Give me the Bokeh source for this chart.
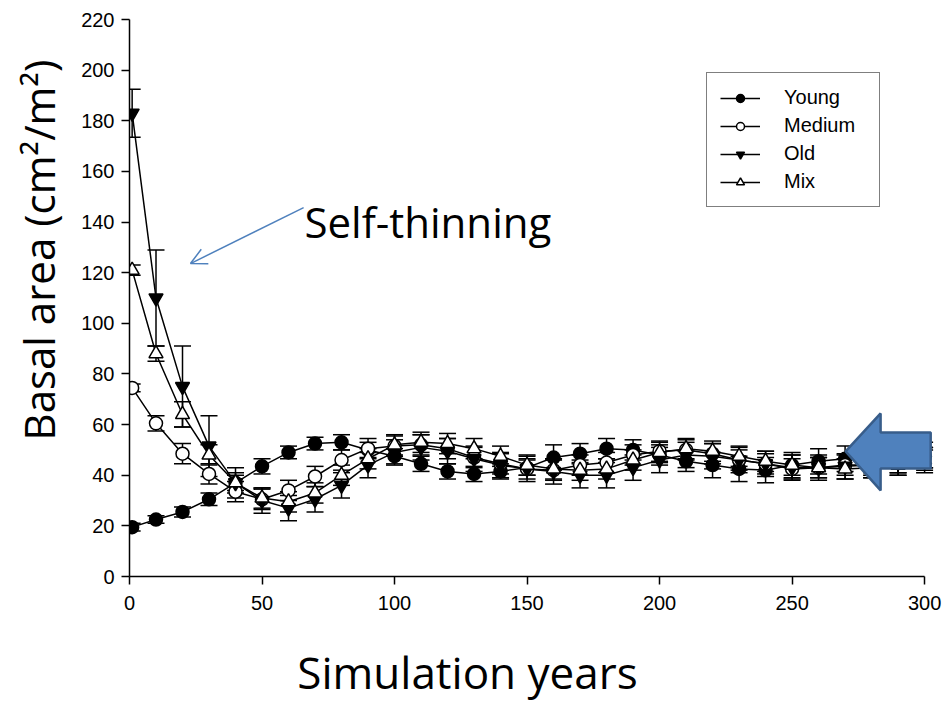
from bokeh.plotting import figure
from bokeh.layouts import column
from bokeh.models import (ColumnDataSource, Range1d, Whisker, TeeHead, Legend, LegendItem,
                          Arrow, OpenHead, Label, FixedTicker, Title)
from bokeh.core.properties import value
from bokeh.embed import file_html
from bokeh.resources import INLINE

years = [1, 10, 20, 30, 40, 50, 60, 70, 80, 90, 100, 110, 120, 130, 140, 150,
         160, 170, 180, 190, 200, 210, 220, 230, 240, 250, 260, 270, 280, 290, 300]

young = [19.5, 22.5, 25.5, 30.5, 37, 43.5, 49, 52.5, 53, 50, 47.5, 44.5, 41.5, 40.5, 41.5, 43,
         47, 48.5, 50.5, 50, 48, 45.5, 44, 42.5, 42, 44, 45.5, 46.5, 46, 46, 48]
young_err = [1.5, 1.5, 2, 2.5, 3, 3, 2.5, 2.5, 3, 3, 3, 3, 3, 3, 3, 3,
             5, 4, 4, 4, 4, 4, 5, 5, 5, 5, 5, 5, 5, 5, 5]

medium = [74.5, 60.5, 48.5, 40.5, 33.5, 30.5, 34, 39.5, 46, 50.5, 51.5, 52, 50.5, 47, 44.5, 42.5,
          42, 44, 45, 48, 49.5, 50, 48.5, 46, 44.5, 42.5, 43, 44, 44, 45, 47]
medium_err = [1.5, 3, 4, 4, 4, 4, 4, 4, 4, 4, 4, 4, 4, 4, 4, 4,
              4, 4, 4, 4, 4, 4, 4, 4, 4, 4, 4, 4, 4, 4, 4]

old = [183, 110, 75, 51.5, 37, 30, 27, 30.5, 36, 44, 49, 51, 49.5, 46.5, 44, 42.5,
       41.5, 40, 40, 43, 46, 48, 47.5, 46, 44.5, 43, 43, 43.5, 44, 45, 46]
old_err = [9.5, 19, 16, 12, 6, 5, 5, 5, 5, 5, 5, 5, 5, 5, 5, 5,
           5, 5, 5, 5, 5, 5, 5, 5, 5, 5, 5, 5, 5, 5, 5]

mix = [121, 88, 64, 48, 37, 31, 29.5, 33, 40, 46.5, 52, 53, 52.5, 50.5, 47.5, 44,
       42.5, 42, 42.5, 46, 49, 50.5, 49.5, 47.5, 45.5, 44, 43, 42.5, 43, 44, 46]
mix_err = [2, 3, 5, 4, 4, 4, 4, 4, 4, 4, 4, 4, 4, 4, 4, 4,
           4, 4, 4, 4, 4, 4, 4, 4, 4, 4, 4, 4, 4, 4, 4]

series_names = ["Young", "Medium", "Old", "Mix"]
x_ticks = [0, 50, 100, 150, 200, 250, 300]
y_ticks = [0, 20, 40, 60, 80, 100, 120, 140, 160, 180, 200, 220]
x_title = "Simulation years"
y_title = "Basal area (cm\u00b2/m\u00b2)"
note_text = "Self-thinning"

FRAME_L, FRAME_T, FRAME_R = 129, 19, 940
W, H = 943, 702
TOP_H = 640          # main figure height; the x title strip sits below it
FRAME_B = 576

p = figure(width=W, height=TOP_H, output_backend="svg", toolbar_location=None,
           x_range=Range1d(0, 306), y_range=Range1d(0, 220),
           min_border_left=FRAME_L, min_border_right=W - FRAME_R,
           min_border_top=FRAME_T, min_border_bottom=TOP_H - FRAME_B)
p.outline_line_color = None
p.grid.visible = False
p.background_fill_color = "white"
p.border_fill_color = "white"

tick_font = "Liberation Sans"
for ax in (p.xaxis[0], p.yaxis[0]):
    ax.axis_line_width = 1.5
    ax.axis_line_color = "black"
    ax.major_tick_line_width = 1.5
    ax.major_tick_line_color = "black"
    ax.major_tick_out = 8
    ax.major_tick_in = 0
    ax.minor_tick_line_color = None
    ax.major_label_text_font = tick_font
    ax.major_label_text_font_size = "20px"
    ax.major_label_text_color = "black"

p.xaxis[0].ticker = FixedTicker(ticks=x_ticks)
p.yaxis[0].ticker = FixedTicker(ticks=y_ticks)
p.xaxis[0].bounds = (0, 300)
p.yaxis[0].bounds = (0, 220)
p.xaxis[0].major_label_standoff = 11
p.yaxis[0].major_label_standoff = 7

# y title as a left-side title, offset from the frame bottom like the reference
p.add_layout(Title(text=y_title, text_font="Open Sans", text_font_size="42px",
                   text_font_style="normal", text_color="black",
                   align="left", offset=136, vertical_align="top", standoff=19),
             "left")

vals = [young, medium, old, mix]
errs = [young_err, medium_err, old_err, mix_err]
markers = ["circle", "circle", "inverted_triangle", "triangle"]
fills = ["black", "white", "black", "white"]
sizes = [13, 13, 14, 14]

items = []
for name, v, e, m, fc, sz in zip(series_names, vals, errs, markers, fills, sizes):
    src = ColumnDataSource(dict(x=years, y=v,
                                lo=[a - b for a, b in zip(v, e)],
                                hi=[a + b for a, b in zip(v, e)]))
    w = Whisker(source=src, base="x", upper="hi", lower="lo",
                line_color="black", line_width=1.5,
                upper_head=TeeHead(size=17, line_color="black", line_width=1.5),
                lower_head=TeeHead(size=17, line_color="black", line_width=1.5))
    p.add_layout(w)
    ln = p.line("x", "y", source=src, line_color="black", line_width=1.5)
    sc = p.scatter("x", "y", source=src, marker=m, size=sz, fill_color=fc,
                   line_color="black", line_width=1.5)
    items.append(LegendItem(label=name, renderers=[ln, sc]))

legend = Legend(items=items, location=(577, 369), orientation="vertical",
                label_text_font=tick_font, label_text_font_size="20px",
                label_text_color="black",
                border_line_color="black", border_line_width=1.5,
                background_fill_color="white", background_fill_alpha=1,
                glyph_width=40, glyph_height=20, spacing=5,
                padding=13, margin=0, label_standoff=24, label_width=82)
p.add_layout(legend)

# "Self-thinning" annotation
arrow_start = (65.7, 145.7)
arrow_end = (23.0, 123.6)
p.add_layout(Arrow(x_start=arrow_start[0], y_start=arrow_start[1],
                   x_end=arrow_end[0], y_end=arrow_end[1],
                   line_color="#4F81BD", line_width=1.5,
                   end=OpenHead(size=16, line_color="#4F81BD", line_width=1.5)))
p.add_layout(Label(x=66, y=151.5, text=note_text, text_font="Open Sans",
                   text_font_size="42px", text_color="black",
                   text_baseline="top"))

# Block arrow pointing at equilibrium
bx = [270.2, 283.4, 283.4, 302.3, 302.3, 283.4, 283.4]
by = [49.4, 64.4, 56.9, 56.9, 42.7, 42.7, 34.0]
p.patch(bx, by, fill_color="#4F81BD", line_color="#385D8A", line_width=2.5)

# Strip below the chart holding the x-axis title; its frame lines up with the
# chart frame, so its x range is expressed in page pixels of that frame span.
BOT_H = H - TOP_H
q = figure(width=W, height=BOT_H, output_backend="svg", toolbar_location=None,
           x_range=Range1d(FRAME_L, FRAME_R), y_range=Range1d(0, BOT_H),
           min_border=0, x_axis_type=None, y_axis_type=None)
q.outline_line_color = None
q.grid.visible = False
q.background_fill_color = "white"
q.border_fill_color = "white"
q.text(x=[467], y=[BOT_H - 31], text=[x_title], text_font=value("Open Sans"),
       text_font_size="44px", text_color="black",
       text_align="center", text_baseline="middle")

layout = column(p, q, spacing=0)
open("out.html", "w").write(file_html(layout, INLINE))
